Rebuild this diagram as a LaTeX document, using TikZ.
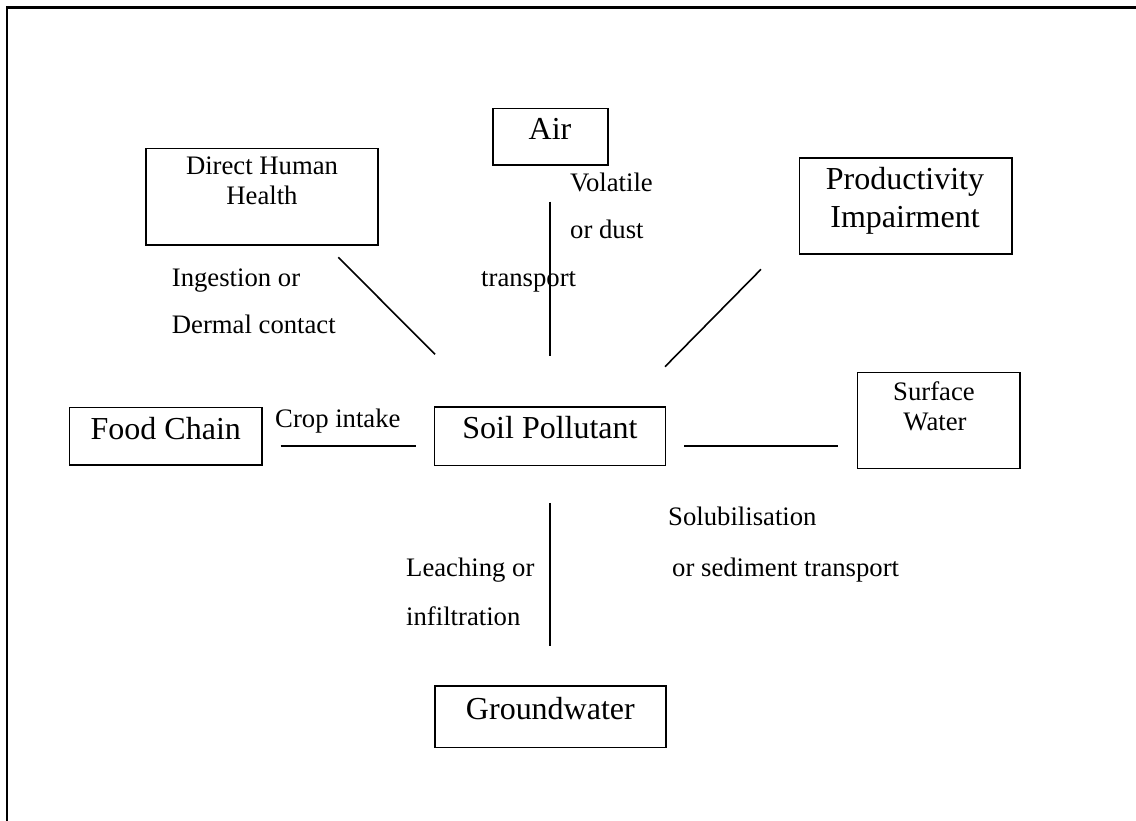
\documentclass[tikz,border=0pt]{standalone}
\usepackage{fontspec}
\setmainfont{Liberation Serif}
\begin{document}
\begin{tikzpicture}[x=1pt,y=-1pt,
  box/.style={draw=black,line width=1.6pt,inner sep=0pt,rectangle},
  big/.style={font=\fontsize{32}{38}\selectfont,inner sep=0pt,anchor=base},
  small/.style={font=\fontsize{26.7}{32}\selectfont,inner sep=0pt,anchor=base},
  lab/.style={font=\fontsize{26.7}{32}\selectfont,inner sep=0pt,anchor=base west},
  link/.style={line width=1.6pt},
  frame/.style={line width=2.2pt}]
\useasboundingbox (0,0) rectangle (1136,821);
% frame
\coordinate (ftl) at (7,7.5);
\coordinate (ftr) at (1136,7.5);
\coordinate (fbl) at (7,821);
\draw[frame] (fbl) -- (ftl) -- (ftr);
% boxes
\node[box,minimum width=231.7pt,minimum height=96.7pt] (dhh) at (261.9,196.7) {};
\node[box,minimum width=115pt,minimum height=56.7pt] (air) at (550.2,136.7) {};
\node[box,minimum width=212.4pt,minimum height=96.3pt] (prod) at (905.5,205.9) {};
\node[box,minimum width=192.7pt,minimum height=57.7pt] (food) at (165.7,436.2) {};
\node[box,minimum width=231pt,minimum height=58.8pt] (soil) at (550,436.1) {};
\node[box,minimum width=162.7pt,minimum height=96pt] (surf) at (938.7,420.3) {};
\node[box,minimum width=231pt,minimum height=61.8pt] (gw) at (550.2,716.6) {};
% box texts
\node[small] (dhh1) at (262,175) {Direct Human};
\node[small] (dhh2) at (262,205) {Health};
\node[big] (airt) at (550,139.3) {Air};
\node[big] (prod1) at (905,189.3) {Productivity};
\node[big] (prod2) at (905,227.3) {Impairment};
\node[big] (foodt) at (165.8,439.3) {Food Chain};
\node[big] (soilt) at (550,438.3) {Soil Pollutant};
\node[small] (surf1) at (934,400) {Surface};
\node[small] (surf2) at (935,430) {Water};
\node[big] (gwt) at (550.4,719) {Groundwater};
% connector labels
\node[lab] (l1) at (171.7,286.7) {Ingestion or};
\node[lab] (l2) at (171.7,333.3) {Dermal contact};
\node[lab] (l3) at (570,191.7) {Volatile};
\node[lab] (l4) at (570,238.3) {or dust};
\node[lab] (l5) at (481,286.7) {transport};
\node[lab] (l6) at (275,427.7) {Crop intake};
\node[lab] (l7) at (406,576) {Leaching or};
\node[lab] (l8) at (406,625) {infiltration};
\node[lab] (l9) at (668,525.4) {Solubilisation};
\node[lab] (l10) at (672,576) {or sediment transport};
% connector ends
\coordinate (a1) at (338.3,257.3); \coordinate (a2) at (435,354.3);
\coordinate (b1) at (550,201.7);   \coordinate (b2) at (550,355.7);
\coordinate (c1) at (761,269.3);   \coordinate (c2) at (665,366.7);
\coordinate (d1) at (280.7,445.7); \coordinate (d2) at (416,445.7);
\coordinate (e1) at (684.3,446);   \coordinate (e2) at (838.3,446);
\coordinate (f1) at (550,502.9);   \coordinate (f2) at (550,646.4);
\draw[link] (a1) -- (a2);
\draw[link] (b1) -- (b2);
\draw[link] (c1) -- (c2);
\draw[link] (d1) -- (d2);
\draw[link] (e1) -- (e2);
\draw[link] (f1) -- (f2);
\end{tikzpicture}
\end{document}
